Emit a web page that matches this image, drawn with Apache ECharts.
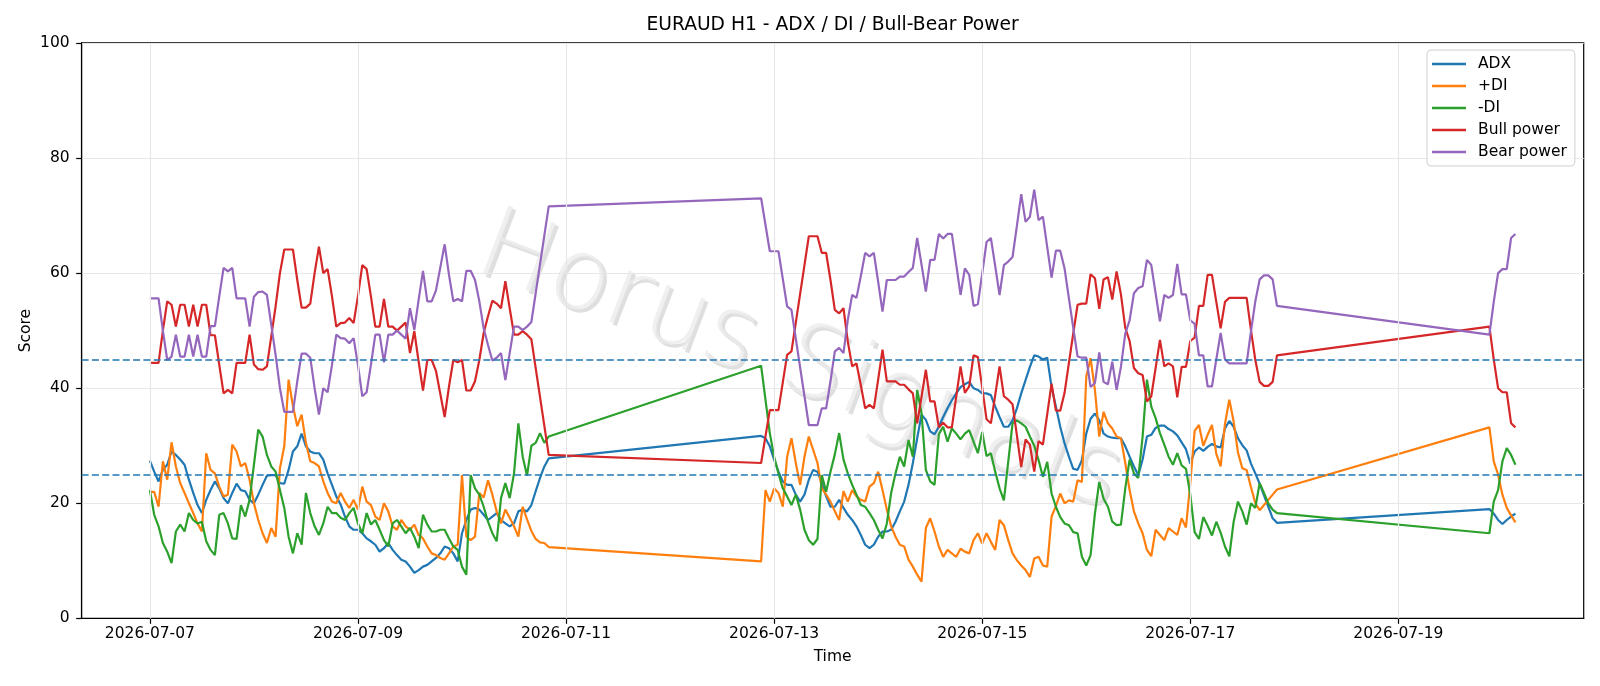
<!DOCTYPE html>
<html>
<head>
<meta charset="utf-8">
<script src="https://cdn.jsdelivr.net/npm/echarts@6/dist/echarts.min.js"></script>
<style>
html,body{margin:0;padding:0;background:#ffffff;}
#chart{width:1600px;height:686px;}
</style>
</head>
<body>
<div id="chart"></div>
<script>
// ---------------- data ----------------
const sessions = [
  { start: '2026-07-07T00:00:00Z', bars: 93 },
  { start: '2026-07-12T21:00:00Z', bars: 120 },
  { start: '2026-07-19T21:00:00Z', bars: 7 }
];
const tickLabels = ['2026-07-07','2026-07-09','2026-07-11','2026-07-13','2026-07-15','2026-07-17','2026-07-19'];
const thresholds = [25, 45];

const adx = [
 27.4,25.5,23.8,25.8,26.7,29.0,28.4,27.6,26.7,24.1,
 21.8,19.7,18.3,20.6,22.3,23.8,22.6,20.9,20.0,21.8,
 23.4,22.3,22.1,20.6,20.0,21.5,23.2,24.8,24.9,24.9,
 23.5,23.4,25.8,29.0,29.9,32.1,29.9,29.0,28.7,28.7,
 27.6,25.2,23.2,21.2,19.8,17.7,16.0,15.4,15.4,14.8,
 13.9,13.4,12.8,11.6,12.2,13.1,11.9,11.0,10.2,9.9,
 9.0,7.9,8.4,9.0,9.3,9.9,10.5,11.3,12.5,12.2,
 11.3,9.9,14.8,17.1,18.9,19.2,18.9,18.0,17.1,17.7,
 18.3,17.1,16.5,16.0,16.5,18.6,18.9,18.6,19.7,22.1,
 24.4,26.4,27.8,
 31.7,31.3,29.9,27.6,25.5,23.8,23.2,23.2,21.5,20.3,
 21.5,24.1,25.8,25.5,23.5,21.2,19.4,19.4,20.6,19.2,
 18.0,17.1,16.0,14.5,12.8,12.2,12.8,14.2,15.1,15.1,
 15.4,16.8,18.6,20.3,23.2,27.0,31.3,35.4,34.5,32.5,
 32.0,33.3,35.0,36.5,37.9,39.1,40.2,40.7,41.1,40.0,
 39.7,39.1,39.1,38.8,36.8,35.0,33.3,33.3,34.4,36.5,
 39.1,41.4,43.7,45.7,45.5,45.0,45.3,40.2,36.8,33.3,
 30.4,28.1,26.0,25.8,27.5,32.1,34.7,35.6,34.4,32.1,
 31.6,31.4,31.3,31.3,29.9,28.1,26.4,24.9,27.6,31.6,
 31.9,33.1,33.5,33.5,32.9,32.5,31.8,30.6,29.4,26.9,
 29.0,29.7,29.1,29.8,30.3,29.9,29.7,33.0,34.3,33.3,
 31.3,30.1,29.2,26.9,25.2,23.4,21.4,19.4,17.4,16.6,
 19.0,18.2,17.1,16.4,17.1,17.7,18.2
];
const plusDI = [
 22.0,22.0,19.4,27.3,24.1,30.6,26.4,23.5,21.8,20.0,
 18.3,16.5,15.1,28.7,25.8,25.2,22.9,21.2,21.5,30.2,
 29.0,26.4,27.0,24.1,20.0,17.1,14.8,13.1,15.7,14.2,
 26.1,29.9,41.5,36.9,33.4,35.4,30.5,27.3,27.0,26.4,
 23.8,21.8,20.3,20.0,21.8,20.3,19.2,20.6,18.9,22.9,
 20.3,19.7,17.7,17.1,20.0,18.6,16.0,15.4,17.1,16.0,
 15.4,16.3,14.5,13.9,12.5,11.3,11.0,10.5,10.2,11.3,
 12.5,12.8,24.9,14.2,13.6,14.2,21.8,21.0,24.0,21.5,
 18.6,16.5,18.9,17.5,16.0,14.2,19.4,17.2,15.2,13.8,
 13.2,13.1,12.4,
 9.9,22.3,20.3,22.6,21.8,19.4,28.1,31.3,27.0,23.2,
 28.1,31.6,29.3,27.0,22.6,21.5,20.3,18.6,17.1,22.1,
 20.3,22.3,21.2,20.6,20.3,22.9,23.5,25.5,22.3,18.9,
 16.0,14.2,12.8,12.5,10.2,9.0,7.6,6.4,15.7,17.4,
 15.1,12.5,10.7,11.9,11.3,10.7,12.1,11.6,11.3,13.6,
 14.8,13.0,14.8,13.3,11.9,17.1,16.2,13.6,11.3,10.1,
 9.2,8.4,7.2,10.4,10.7,9.2,9.0,17.7,19.5,21.7,
 20.0,20.5,20.3,24.0,23.7,42.0,45.2,39.7,31.6,35.9,
 33.9,33.0,31.6,31.3,27.0,22.3,18.6,16.5,14.8,11.9,
 10.8,15.4,14.5,13.6,15.7,15.1,14.5,17.4,15.8,23.5,
 32.6,33.6,30.0,31.9,33.6,28.6,26.4,33.8,38.0,34.2,
 28.8,26.1,25.8,22.8,20.0,18.8,19.7,20.6,21.5,22.4,
 33.2,27.3,25.0,21.5,19.2,17.9,16.7
];
const minusDI = [
 22.3,18.0,16.0,13.1,11.6,9.6,15.1,16.3,15.1,18.3,
 17.1,16.5,16.8,13.4,11.9,11.0,18.0,18.3,16.5,13.9,
 13.8,19.7,17.7,20.6,26.7,32.8,31.6,28.4,26.4,25.5,
 22.3,19.2,14.2,11.3,14.8,12.8,21.8,18.3,16.0,14.5,
 16.5,19.4,18.3,18.3,17.5,17.1,18.3,19.2,16.5,14.8,
 18.3,16.3,17.1,15.4,13.6,12.5,16.5,17.1,16.0,14.8,
 15.7,14.2,12.2,18.0,16.3,15.1,15.1,15.4,15.4,13.9,
 12.5,11.9,9.0,7.6,24.9,22.6,21.5,19.4,16.8,14.8,
 13.4,20.9,23.5,20.9,25.2,33.9,28.1,24.8,30.0,30.5,
 32.2,30.5,31.6,
 43.9,38.0,32.2,28.1,25.2,22.6,21.2,19.7,21.5,18.9,
 15.4,13.6,12.8,13.8,24.9,22.0,25.5,28.5,32.2,27.6,
 25.2,23.2,21.5,19.7,19.4,18.3,17.1,15.4,13.9,16.5,
 21.8,25.2,28.1,26.4,31.0,28.1,39.7,35.7,25.8,23.8,
 23.2,32.0,33.3,30.7,33.0,32.1,31.1,32.1,32.7,30.7,
 28.7,32.4,28.2,28.7,25.5,22.6,20.5,27.2,33.9,34.4,
 33.9,33.3,31.6,30.0,27.5,24.6,27.2,21.7,19.4,17.6,
 16.5,16.2,15.0,14.8,10.7,9.2,11.0,18.2,23.7,20.8,
 19.4,16.8,16.2,16.3,22.6,27.6,25.2,24.4,31.6,41.5,
 36.8,34.8,32.2,30.2,28.1,26.7,28.7,26.6,26.0,21.5,
 15.0,13.8,17.6,16.1,14.4,16.8,14.9,12.5,10.8,16.8,
 20.3,18.6,16.3,20.0,19.2,23.5,21.8,20.0,18.9,18.3,
 14.8,20.3,22.3,27.3,29.6,28.4,26.7
];
const bullPower = [
 44.4,44.4,44.4,50.0,55.1,54.5,50.7,54.5,54.5,50.7,
 54.5,50.7,54.5,54.5,49.2,49.2,44.1,39.1,39.7,39.1,
 44.4,44.4,44.4,49.3,44.1,43.3,43.2,43.8,49.0,54.2,
 60.0,64.1,64.1,64.1,58.8,54.0,54.0,54.7,60.0,64.6,
 60.0,60.7,56.0,50.7,51.3,51.4,52.2,51.3,56.0,61.4,
 60.7,55.9,50.7,50.7,55.5,50.7,50.7,50.0,50.7,51.4,
 46.1,49.9,44.6,39.6,44.9,44.9,43.0,39.0,35.0,40.3,
 44.9,44.5,44.9,39.6,39.6,41.2,44.9,49.6,52.5,55.2,
 54.7,53.9,58.6,53.9,49.3,49.3,49.9,49.3,48.5,null,
 null,null,28.4,
 27.0,31.6,36.2,36.2,36.2,41.0,45.8,46.4,51.4,56.4,
 61.4,66.4,66.4,66.4,63.5,63.5,58.8,53.6,53.0,53.9,
 48.1,43.8,44.3,40.5,36.5,37.1,36.5,41.5,46.7,41.2,
 41.2,41.2,40.6,40.6,39.8,39.1,33.9,38.5,43.2,37.7,
 37.7,33.2,34.0,33.2,33.2,38.5,43.8,39.2,40.3,45.7,
 45.4,40.1,34.6,33.9,38.8,43.8,38.6,38.0,37.2,31.8,
 26.3,31.1,30.2,25.5,30.8,30.2,35.5,40.8,36.1,36.1,
 39.2,44.4,49.5,54.5,54.7,54.7,59.8,59.1,53.8,58.9,
 59.3,55.4,60.3,56.3,50.5,48.2,43.5,42.6,42.3,37.7,
 38.6,43.5,48.4,43.8,44.3,43.8,38.4,43.7,43.7,48.2,
 48.8,54.3,54.3,59.7,59.7,55.0,50.4,55.0,55.7,55.7,
 55.7,55.7,55.7,50.1,44.9,41.1,40.4,40.4,41.1,45.7,
 50.7,45.0,40.0,39.3,39.3,33.9,33.2
];
const bearPower = [
 55.6,55.6,55.6,50.0,44.9,45.5,49.3,45.5,45.5,49.3,
 45.5,49.3,45.5,45.5,50.8,50.8,55.9,60.9,60.3,60.9,
 55.6,55.6,55.6,50.7,55.9,56.7,56.8,56.2,51.0,45.8,
 40.0,35.9,35.9,35.9,41.2,46.0,46.0,45.3,40.0,35.4,
 40.0,39.3,44.0,49.3,48.7,48.6,47.8,48.7,44.0,38.6,
 39.3,44.1,49.3,49.3,44.5,49.3,49.3,50.0,49.3,48.6,
 53.9,50.1,55.4,60.4,55.1,55.1,57.0,61.0,65.0,59.7,
 55.1,55.5,55.1,60.4,60.4,58.8,55.1,50.4,47.5,44.8,
 45.3,46.1,41.4,46.1,50.7,50.7,50.1,50.7,51.5,null,
 null,null,71.6,
 73.0,68.4,63.8,63.8,63.8,59.0,54.2,53.6,48.6,43.6,
 38.6,33.6,33.6,33.6,36.5,36.5,41.2,46.4,47.0,46.1,
 51.9,56.2,55.7,59.5,63.5,62.9,63.5,58.5,53.3,58.8,
 58.8,58.8,59.4,59.4,60.2,60.9,66.1,61.5,56.8,62.3,
 62.3,66.8,66.0,66.8,66.8,61.5,56.2,60.8,59.7,54.3,
 54.6,59.9,65.4,66.1,61.2,56.2,61.4,62.0,62.8,68.2,
 73.7,68.9,69.8,74.5,69.2,69.8,64.5,59.2,63.9,63.9,
 60.8,55.6,50.5,45.5,45.3,45.3,40.2,40.9,46.2,41.1,
 40.7,44.6,39.7,43.7,49.5,51.8,56.5,57.4,57.7,62.3,
 61.4,56.5,51.6,56.2,55.7,56.2,61.6,56.3,56.3,51.8,
 51.2,45.7,45.7,40.3,40.3,45.0,49.6,45.0,44.3,44.3,
 44.3,44.3,44.3,49.9,55.1,58.9,59.6,59.6,58.9,54.3,
 49.3,55.0,60.0,60.7,60.7,66.1,66.8
];

// ---------------- build ----------------
const T0 = Date.parse('2026-07-07T00:00:00Z');
const hoursOf = s => (Date.parse(s) - T0) / 3600000;
const xs = [];
sessions.forEach(s => { const h0 = hoursOf(s.start); for (let i = 0; i < s.bars; i++) xs.push(h0 + i); });
const tickPos = tickLabels.map(d => hoursOf(d + 'T00:00:00Z'));
const span = xs[xs.length - 1] - xs[0];
const xMin = xs[0] - span * 0.05, xMax = xs[xs.length - 1] + span * 0.05;

const FONT = '"DejaVu Sans", Verdana, sans-serif';
const pairs = arr => xs.map((x, i) => [x, arr[i]]).filter(p => p[1] !== null && p[1] !== undefined);
const lineSeries = (name, arr, color) => ({
  name, type: 'line', data: pairs(arr), showSymbol: false, symbol: 'none',
  lineStyle: { color, width: 2.2 }, itemStyle: { color }, z: 4,
  emphasis: { disabled: true }, animation: false
});

const chart = echarts.init(document.getElementById('chart'), null, { renderer: 'canvas' });
const PL = 81.6, PR = 1583.7, PT = 42.9, PB = 618.4;
const AX = { color: '#000', width: 1.2 };
chart.setOption({
  animation: false,
  backgroundColor: '#ffffff',
  grid: { left: PL, right: 1600 - PR, top: PT, bottom: 686 - PB, show: true, borderColor: '#000', borderWidth: 1.2, backgroundColor: 'transparent' },
  xAxis: {
    type: 'value', min: xMin, max: xMax,
    axisLine: { show: true, onZero: false, lineStyle: AX },
    splitLine: { show: false },
    axisTick: { show: true, customValues: tickPos, length: 5.4, lineStyle: AX },
    axisLabel: { show: true, customValues: tickPos, margin: 8, color: '#000', fontSize: 15.5, fontFamily: FONT,
      formatter: v => tickLabels[tickPos.indexOf(v)] || '' }
  },
  yAxis: {
    type: 'value', min: 0, max: 100, interval: 20,
    axisLine: { show: true, onZero: false, lineStyle: AX },
    splitLine: { show: true, lineStyle: { color: '#e7e7e7', width: 1.2 } },
    axisTick: { show: true, length: 5.4, lineStyle: AX },
    axisLabel: { margin: 12, color: '#000', fontSize: 15.5, fontFamily: FONT }
  },
  legend: {
    orient: 'vertical', left: 1427, top: 50,
    padding: [6, 8, 6, 5], itemGap: 6, itemWidth: 34, itemHeight: 2.3, icon: 'rect',
    backgroundColor: 'rgba(255,255,255,0.8)', borderColor: '#d0d0d0', borderWidth: 1, borderRadius: 4,
    selectedMode: false,
    textStyle: { color: '#000', fontSize: 15.5, fontFamily: FONT, lineHeight: 16, padding: [0, 0, 0, 7] },
    data: ['ADX', '+DI', '-DI', 'Bull power', 'Bear power']
  },
  graphic: [
    { type: 'text', x: 832.6, y: 25.5, silent: true, z: 10,
      style: { text: 'EURAUD H1 - ADX / DI / Bull-Bear Power', fill: '#000', font: '18.7px ' + FONT, align: 'center', verticalAlign: 'middle' } },
    { type: 'text', x: 832.6, y: 657, silent: true, z: 10,
      style: { text: 'Time', fill: '#000', font: '15.5px ' + FONT, align: 'center', verticalAlign: 'middle' } },
    { type: 'text', x: 25.5, y: 330.6, rotation: Math.PI / 2, silent: true, z: 10,
      style: { text: 'Score', fill: '#000', font: '15.5px ' + FONT, align: 'center', verticalAlign: 'middle' } },
    { type: 'text', x: 802, y: 368, rotation: -0.36, silent: true, z: 0,
      style: { text: 'Horus Signals', fill: 'rgba(110,110,110,0.22)', font: '200 100px ' + FONT, align: 'center', verticalAlign: 'middle' } },
    { type: 'text', x: 799, y: 365, rotation: -0.36, silent: true, z: 0,
      style: { text: 'Horus Signals', fill: 'rgba(235,235,235,0.75)', font: '200 100px ' + FONT, align: 'center', verticalAlign: 'middle' } }
  ],
  series: [
    { name: '_grid', type: 'line', data: [], silent: true, z: 1, animation: false,
      markLine: { silent: true, symbol: ['none', 'none'], label: { show: false }, animation: false,
        lineStyle: { color: '#e7e7e7', width: 1.2, type: 'solid' },
        data: tickPos.map(v => ({ xAxis: v })) } },
    lineSeries('ADX', adx, '#1f77b4'),
    lineSeries('+DI', plusDI, '#ff7f0e'),
    lineSeries('-DI', minusDI, '#2ca02c'),
    lineSeries('Bull power', bullPower, '#d62728'),
    lineSeries('Bear power', bearPower, '#9467bd'),
    { name: '_thr', type: 'line', data: [], silent: true, z: 5, animation: false,
      markLine: { silent: true, symbol: ['none', 'none'], label: { show: false }, animation: false,
        lineStyle: { color: '#1f77b4', width: 1.5, type: [7, 3.3] },
        data: thresholds.map(v => ({ yAxis: v })) } }
  ]
});
</script>
</body>
</html>
